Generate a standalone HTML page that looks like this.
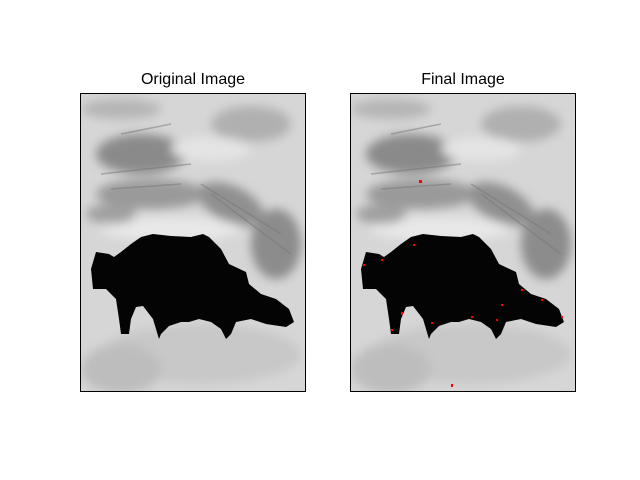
<!DOCTYPE html>
<html><head><meta charset="utf-8"><style>
body{margin:0;background:#fff;width:640px;height:480px;overflow:hidden}
svg{display:block}
</style></head><body>
<svg width="640" height="480">
<defs>
<clipPath id="c"><rect x="0" y="0" width="225" height="298"/></clipPath>
<filter id="b" x="-20%" y="-20%" width="140%" height="140%"><feGaussianBlur stdDeviation="5"/></filter>
<g id="scene">
 <rect x="0" y="0" width="225" height="298" fill="#d6d6d6"/>
 <g clip-path="url(#c)">
 <g filter="url(#b)">
  <ellipse cx="60" cy="60" rx="45" ry="20" fill="#8a8a8a"/>
  <ellipse cx="70" cy="100" rx="55" ry="15" fill="#9a9a9a"/>
  <ellipse cx="150" cy="110" rx="35" ry="18" fill="#909090" transform="rotate(25 150 110)"/>
  <ellipse cx="195" cy="150" rx="25" ry="35" fill="#8c8c8c"/>
  <ellipse cx="170" cy="30" rx="40" ry="18" fill="#b0b0b0"/>
  <ellipse cx="40" cy="15" rx="40" ry="10" fill="#b5b5b5"/>
  <ellipse cx="120" cy="260" rx="100" ry="30" fill="#c8c8c8"/>
  <ellipse cx="40" cy="275" rx="40" ry="25" fill="#bdbdbd"/>
  <ellipse cx="90" cy="135" rx="70" ry="12" fill="#e8e8e8"/>
  <ellipse cx="130" cy="55" rx="40" ry="12" fill="#e4e4e4"/>
  <ellipse cx="30" cy="120" rx="25" ry="10" fill="#a0a0a0"/>
 </g>
 <g stroke="#777" stroke-width="1.5" opacity="0.5">
  <path d="M20,80 L110,70 M30,95 L100,90 M120,90 L200,140 M130,100 L210,160 M40,40 L90,30"/>
 </g>
 </g>
 <path d="M15,158 L28,160 L33,163 L40,158 L50,150 L60,143 L72,140 L90,142 L110,143 L122,140 L128,143 L140,155 L148,170 L165,178 L168,190 L180,200 L195,205 L208,215 L213,228 L205,233 L185,230 L170,225 L155,228 L150,240 L145,245 L140,235 L130,228 L118,225 L108,228 L100,228 L88,232 L80,240 L78,245 L72,225 L62,212 L55,213 L50,225 L48,240 L40,240 L38,225 L35,205 L25,195 L12,195 L10,175 Z" fill="#040404"/>
</g>
</defs>
<text x="193" y="84" font-family="Liberation Sans, DejaVu Sans, sans-serif" font-size="16" text-anchor="middle">Original Image</text>
<text x="463" y="84" font-family="Liberation Sans, DejaVu Sans, sans-serif" font-size="16" text-anchor="middle">Final Image</text>
<g transform="translate(81,94)">
 <use href="#scene"/>
 <rect x="-0.5" y="-0.5" width="225" height="298" fill="none" stroke="#000"/>
</g>
<g transform="translate(351,94)">
 <use href="#scene"/>
 <g fill="#ff0000">
  <rect x="68" y="86" width="3" height="3"/><rect x="62" y="150" width="2" height="2"/>
  <rect x="12" y="170" width="2" height="2"/><rect x="50" y="218" width="2" height="3"/>
  <rect x="40" y="235" width="2" height="2"/><rect x="80" y="228" width="2" height="2"/>
  <rect x="120" y="222" width="2" height="2"/><rect x="150" y="210" width="2" height="2"/>
  <rect x="170" y="195" width="2" height="2"/><rect x="190" y="205" width="2" height="2"/>
  <rect x="210" y="222" width="2" height="2"/><rect x="100" y="290" width="2" height="3"/>
  <rect x="30" y="165" width="2" height="2"/><rect x="145" y="225" width="2" height="2"/>
 </g>
 <rect x="-0.5" y="-0.5" width="225" height="298" fill="none" stroke="#000"/>
</g>
</svg>
</body></html>
